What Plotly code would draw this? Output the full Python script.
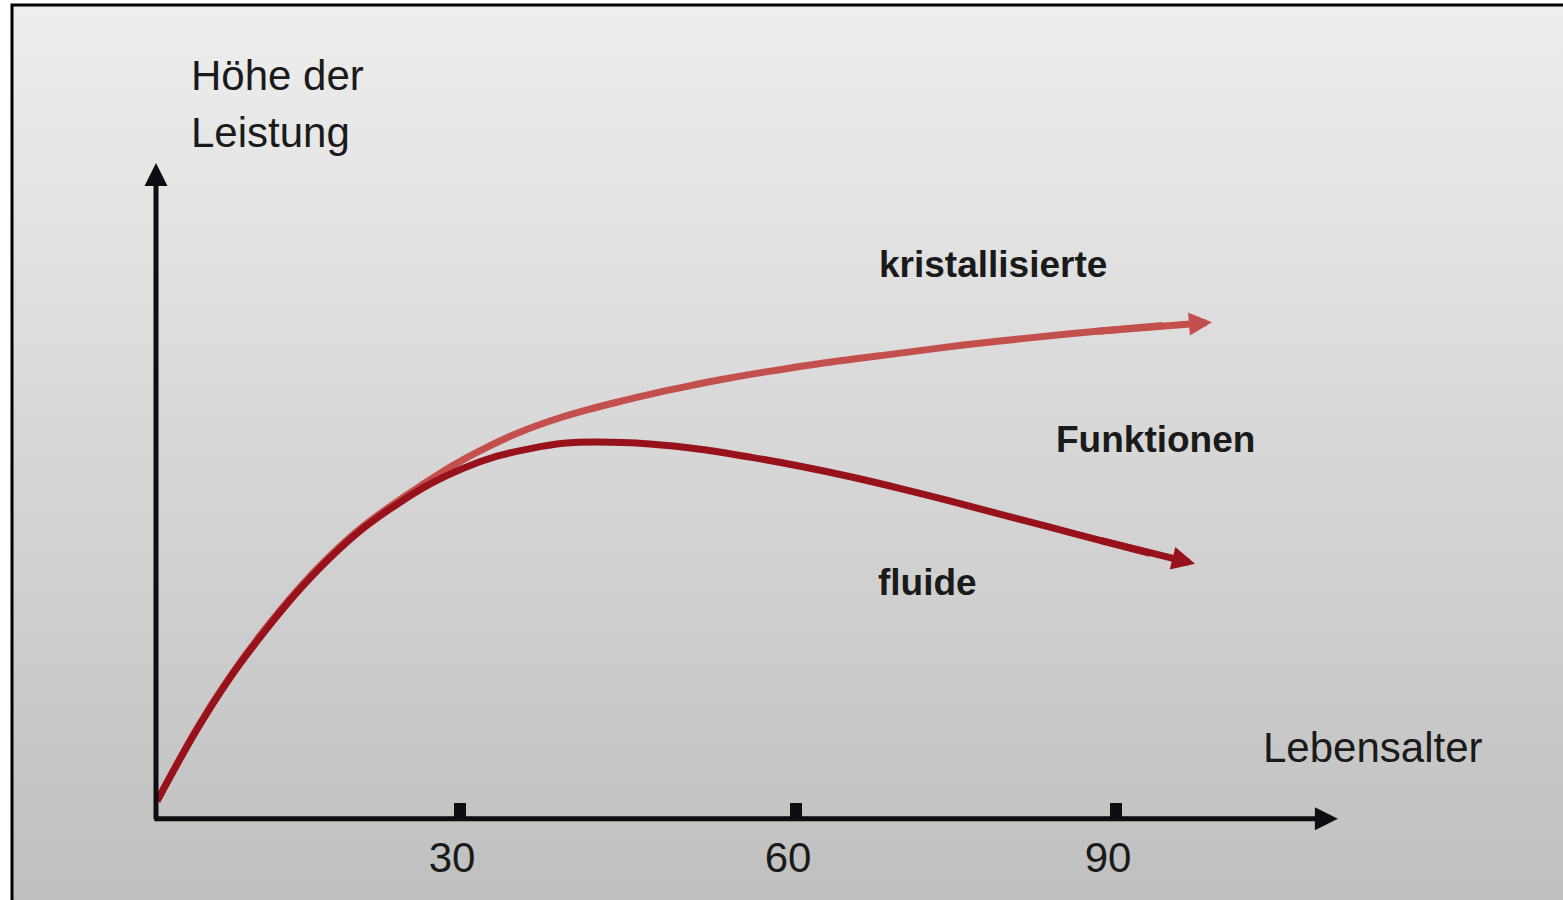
import base64
import plotly.graph_objects as go

W, H = 1563, 900

# ---- data (age in years, performance level 0..100) ----
crystal_age = [0.1, 3.8, 6.9, 10.1, 13.2, 16.3, 19.4, 22.6, 24.8, 27.9, 31.0, 34.1, 37.3, 40.4,
               43.5, 46.6, 49.8, 52.9, 56.0, 59.1, 64.1, 69.4, 75.7, 81.9, 88.2, 94.4, 99.0]
crystal_level = [2.6, 13.6, 21.5, 28.6, 34.7, 40.0, 44.5, 48.3, 50.7, 53.9, 56.6, 58.9, 60.8, 62.3,
                 63.6, 64.8, 65.9, 66.9, 67.8, 68.6, 69.8, 70.9, 72.2, 73.3, 74.3, 75.2, 75.7]

fluid_age = [0.1, 3.8, 6.9, 10.1, 13.2, 16.3, 19.4, 22.6, 25.7, 28.8, 31.9, 35.1, 38.2, 41.3,
             46.3, 51.0, 55.7, 60.4, 65.1, 69.8, 74.4, 79.1, 83.8, 88.5, 93.2, 97.4]
fluid_level = [2.6, 13.4, 21.3, 28.3, 34.4, 39.7, 44.2, 47.9, 51.0, 53.4, 55.2, 56.4, 57.2, 57.4,
               57.1, 56.3, 55.1, 53.7, 52.1, 50.3, 48.4, 46.4, 44.4, 42.4, 40.4, 38.8]

tick_vals = [28.5, 60, 90]
tick_text = ["30", "60", "90"]
x_axis_end = 110.8
y_axis_end = 100

y_title_lines = ["Höhe der", "Leistung"]
x_title = "Lebensalter"
label_crystal = "kristallisierte"
label_mid = "Funktionen"
label_fluid = "fluide"

# ---- styles ----
C_CRYSTAL = "#c4504e"
C_FLUID = "#97121a"
C_AXIS = "#0d0d12"
C_TEXT = "#1a1a1a"
BG_TOP, BG_BOTTOM = "#eeeeee", "#bfbfbf"
FONT = "Liberation Sans Narrow, Arial Narrow, Liberation Sans, Arial, sans-serif"
FS_REG, FS_BOLD = 42, 37

# pixel mapping: age 0 at px 156, 10.667 px/yr ; level 0 at py 818, 6.55 px/unit
PX_X, X0 = 10.667, 156
PX_Y, Y0 = 6.55, 818
x_range = [-X0 / PX_X, (W - X0) / PX_X]
y_range = [-(H - Y0) / PX_Y, Y0 / PX_Y]


def px(xp):
    return xp / W


def py(yp):
    return 1 - yp / H


fig = go.Figure()

fig.add_trace(go.Scatter(x=crystal_age[:-1], y=crystal_level[:-1], mode="lines",
                         line=dict(color=C_CRYSTAL, width=7, shape="spline", smoothing=1),
                         hoverinfo="skip", showlegend=False))
fig.add_trace(go.Scatter(x=fluid_age[:-1], y=fluid_level[:-1], mode="lines",
                         line=dict(color=C_FLUID, width=7, shape="spline", smoothing=1),
                         hoverinfo="skip", showlegend=False))

annotations = []
# curve arrowheads
for xs, ys, col in [(crystal_age, crystal_level, C_CRYSTAL), (fluid_age, fluid_level, C_FLUID)]:
    annotations.append(dict(x=xs[-1], y=ys[-1], ax=xs[-3], ay=ys[-3], xref="x", yref="y",
                            axref="x", ayref="y", text="", showarrow=True, arrowhead=2,
                            arrowwidth=7, arrowsize=0.66, arrowcolor=col, standoff=0))
# axes with arrows
annotations.append(dict(x=0, y=y_axis_end, ax=0, ay=-0.4, xref="x", yref="y", axref="x", ayref="y",
                        text="", showarrow=True, arrowhead=2, arrowwidth=5, arrowsize=0.92,
                        arrowcolor=C_AXIS, standoff=0))
annotations.append(dict(x=x_axis_end, y=-0.1, ax=-0.3, ay=-0.1, xref="x", yref="y", axref="x", ayref="y",
                        text="", showarrow=True, arrowhead=2, arrowwidth=5, arrowsize=0.92,
                        arrowcolor=C_AXIS, standoff=0))


def txt(s, xp, yp, size, bold=False):
    return dict(x=px(xp), y=py(yp), xref="paper", yref="paper", xanchor="left", yanchor="middle",
                text=f"<b>{s}</b>" if bold else s, showarrow=False,
                font=dict(family=FONT, size=size, color=C_TEXT))


annotations.append(txt(y_title_lines[0], 189, 75, FS_REG))
annotations.append(txt(y_title_lines[1], 189, 132, FS_REG))
annotations.append(txt(x_title, 1261, 747, FS_REG))
annotations.append(txt(label_crystal, 877, 264, FS_BOLD, True))
annotations.append(txt(label_mid, 1054, 439, FS_BOLD, True))
annotations.append(txt(label_fluid, 876, 582, FS_BOLD, True))

svg = (f'<svg xmlns="http://www.w3.org/2000/svg" width="10" height="100" viewBox="0 0 10 100" '
       f'preserveAspectRatio="none"><defs><linearGradient id="g" x1="0" y1="0" x2="0" y2="1">'
       f'<stop offset="0" stop-color="{BG_TOP}"/><stop offset="1" stop-color="{BG_BOTTOM}"/>'
       f'</linearGradient></defs><rect width="10" height="100" fill="url(#g)"/></svg>')
src = "data:image/svg+xml;base64," + base64.b64encode(svg.encode()).decode()

fig.update_layout(
    width=W, height=H,
    margin=dict(l=0, r=0, t=0, b=0),
    paper_bgcolor="white", plot_bgcolor="rgba(0,0,0,0)",
    showlegend=False,
    images=[dict(source=src, xref="paper", yref="paper", x=px(12), y=py(5),
                 sizex=1 - px(12) + 0.01, sizey=py(5) + 0.01, xanchor="left", yanchor="top",
                 sizing="stretch", layer="below")],
    shapes=[dict(type="rect", xref="paper", yref="paper", x0=px(12), x1=1.05, y0=-0.05, y1=py(5),
                 line=dict(color="black", width=3), fillcolor="rgba(0,0,0,0)", layer="above")],
    annotations=annotations,
    xaxis=dict(range=x_range, showgrid=False, zeroline=False, showline=False,
               anchor="free", position=(H - 818.5) / H,
               tickmode="array", tickvals=tick_vals, ticktext=tick_text,
               ticks="inside", ticklen=16, tickwidth=12, tickcolor=C_AXIS,
               tickfont=dict(family=FONT, size=FS_REG, color=C_TEXT),
               ticklabelshift=-8, ticklabelstandoff=10, fixedrange=True),
    yaxis=dict(range=y_range, visible=False, fixedrange=True),
)

fig.write_html("out.html", config={"displayModeBar": False},
               post_script="document.body.style.margin='0';")
